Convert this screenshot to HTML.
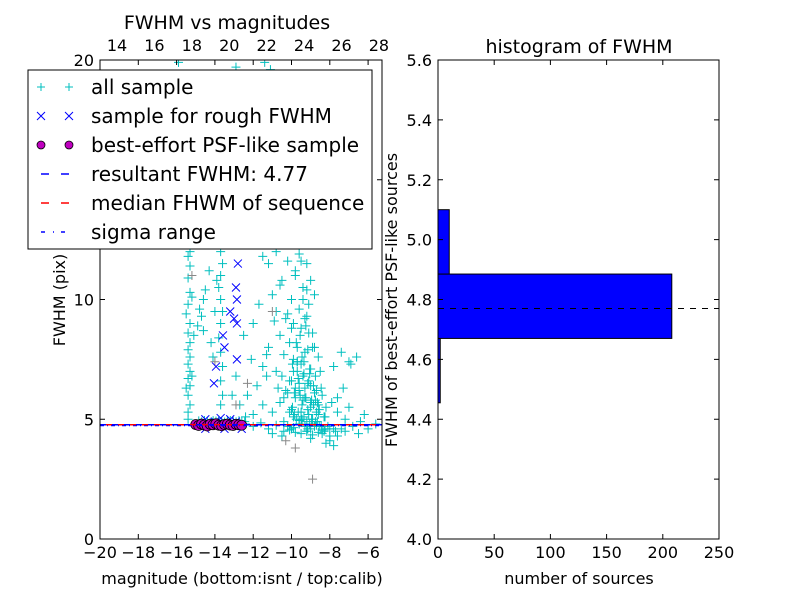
<!DOCTYPE html>
<html><head><meta charset="utf-8"><style>
body{margin:0;background:#fff;font-family:"DejaVu Sans","Liberation Sans",sans-serif}
svg text{font-family:"DejaVu Sans","Liberation Sans",sans-serif;fill:#000}
</style></head><body>
<svg id="fig" width="800" height="600" viewBox="0 0 800 600"></svg>
<script>
const allMag=[-15.4,-15.4,-15.3,-15.4,-15.3,-15.4,-15.3,-15.4,-15.3,-15.4,-15.3,-15.4,-15.3,-15.4,-15.3,-15.4,-15.3,-15.4,-15.3,
-14.9,-14.7,-14.8,-14.6,-14.5,-14.6,
-13.7,-13.6,-13.7,-13.6,-13.7,-13.8,-13.7,-13.6,-13.7,-13.8,-13.7,-13.6,-13.7,-13.8,
-15.9,-11.4,-11.1,-13.9,-12.9,
-11.5,-11.2,-10.8,-10.2,-9.6,-9.2,-9.8,-10.5,-9.4,-8.8,-11.0,-10.0,-9.1,
-10.8,-10.3,-9.9,-9.5,-9.2,-8.9,-10.6,-10.1,-9.7,-9.3,-8.8,-8.6,-10.4,-9.9,-9.5,-9.0,-8.5,-11.2,-11.5,-10.8,-7.4,-7.0,-7.8,
-10.5,-10.0,-9.6,-9.3,-9.0,-8.7,-8.4,-10.2,-9.8,-9.4,-9.0,-8.6,-8.2,-7.9,-10.6,-10.0,-9.5,-9.1,-8.7,-8.3,-7.6,-7.2,-11.0,-11.5,-12.0,-12.3,-11.8,-11.3,-12.1,-12.5,-12.0,-11.7,
-9.7,-9.4,-9.1,-8.8,-9.6,-9.3,-9.0,-8.9,-9.5,-9.2,-8.6,-9.8,-9.35,-9.05,-8.75,-9.45,
-12.4,-12.0,-11.6,-11.2,-10.8,-10.4,-10.0,-9.6,-9.2,-8.8,-8.4,-8.0,-7.6,-7.2,-6.8,-6.4,-6.0,-5.6,-9.0,-8.2,-7.8,-10.5,-6.5,-11.0,
-6.9,-6.6,-7.6,-7.0,-6.2,-7.3,-8.0,
-9.55,-9.25,-8.95,-8.65,-9.85,-9.15,-8.85,-9.65,-9.35,-9.05,-8.45,-8.75,-9.95,-9.45,-9.15,-8.55,-8.25,-9.75,-9.55,-9.25,
-8.95,-8.65,-9.85,-9.15,-8.85,-9.65,-9.35,-9.05,-8.45,-8.75,-9.95,-9.45,-9.15,-8.55,-8.25,-9.75,-10.3,-10.1,-9.9,-9.7,
-10.2,-9.9,-9.6,-9.3,-9.0,-8.7,-8.4,-8.1,-7.8,-10.4,-10.1,-9.8,-9.5,-9.2,-8.9,-8.6,-8.3,-8.0,-7.7,-7.4,
-9.6,-9.4,-9.2,-9.0,-9.8,-9.5,-9.3,-9.1,-8.9,-9.7,-10.0,-10.2,-10.6,-10.9,-11.3,-10.7,-10.4,-10.1,-9.9,-9.6,
-14.2,-14.0,-13.9,-14.2,-14.1,-14.3,-15.5,-15.2,-15.5,-15.2,-15.1,-13.1,-12.7,-12.4,-12.9];
const allFwhm=[5.0,5.3,5.6,6.0,6.4,6.7,7.0,7.3,7.6,7.9,8.2,8.6,9.0,9.8,10.3,10.9,11.4,11.8,12.0,
8.9,9.3,9.6,10.0,10.4,8.7,
5.6,6.0,6.6,7.2,7.8,8.4,9.0,9.5,10.0,10.5,11.0,11.5,12.0,12.5,
19.9,19.9,19.6,19.4,19.7,
11.8,11.5,12.0,11.6,11.9,11.5,11.0,10.8,10.5,10.2,10.2,10.0,9.8,
9.5,9.2,9.0,8.8,9.3,8.6,8.5,8.2,8.0,7.8,8.0,7.6,7.7,7.5,7.3,7.1,7.0,8.0,7.2,7.0,7.8,7.4,7.2,
6.8,6.6,6.5,6.3,6.4,6.2,6.0,6.1,5.9,5.8,5.7,5.6,5.5,5.7,5.7,5.4,5.3,5.2,5.3,5.1,5.3,5.0,5.3,5.6,5.2,6.0,6.4,6.8,7.5,8.5,9.0,9.8,
7.0,6.8,6.6,6.1,6.2,5.9,5.5,5.0,5.0,4.9,5.2,6.3,7.4,6.9,5.8,5.6,
4.8,4.7,4.85,4.6,4.75,4.9,4.6,4.8,4.5,4.7,4.4,4.6,4.3,4.5,4.7,4.9,4.6,4.8,4.2,4.0,3.9,4.3,4.4,4.4,
7.3,7.6,5.9,5.5,5.2,6.3,4.1,
6.0,5.9,5.8,5.7,6.1,6.5,6.4,6.7,6.9,7.1,6.3,6.8,7.3,7.6,7.9,5.4,5.1,8.2,8.5,8.9,
5.0,4.9,5.2,5.4,5.6,5.3,5.1,4.8,4.7,4.9,5.5,5.0,4.6,4.7,4.6,5.0,6.2,6.6,7.0,7.4,
4.7,4.65,4.8,4.7,4.6,4.75,4.55,4.7,4.6,4.5,4.55,4.45,4.4,4.5,4.35,4.45,4.5,4.3,4.5,4.6,
9.6,10.0,10.4,10.8,11.2,11.6,9.2,8.6,8.0,7.4,8.8,9.4,10.6,9.1,7.7,6.3,5.9,5.3,5.1,4.95,
8.2,9.5,10.8,12.4,7.6,11.2,6.3,6.8,9.4,10.1,8.5,6.0,5.6,5.1,6.8];
const greyMag=[-8.9,-10.3,-12.9,-12.3,-14.0,-9.8,-15.2,-11.0];
const greyFwhm=[2.5,4.1,5.6,6.5,7.4,3.8,11.0,9.5];
const roughMag=[-12.8,-12.9,-12.85,-13.2,-13.0,-12.85,-13.58,-13.5,-12.85,-13.94,-14.05,-14.5,-14.5,-13.7,-13.2,-12.9,-12.6,-14.0,-13.5];
const roughFwhm=[11.5,10.5,10.0,9.5,9.2,9.0,8.5,8.0,7.5,7.2,6.5,4.6,5.0,5.05,5.0,4.9,4.6,4.9,4.6];
const psfMag=[-15.0,-14.85,-14.7,-14.55,-14.4,-14.25,-14.1,-13.95,-13.8,-13.65,-13.5,-13.35,-13.2,-13.05,-12.9,-12.75,-12.6];
const psfFwhm=[4.78,4.74,4.8,4.76,4.72,4.79,4.77,4.81,4.75,4.73,4.78,4.8,4.76,4.74,4.79,4.77,4.75];
const resultFwhm=4.77, medianFwhm=4.77, sigmaFwhm=4.77;
const binEdges=[4.455,4.67,4.885,5.1];
const binCounts=[2,208,10];
const xTicksBottom=[-20,-18,-16,-14,-12,-10,-8,-6];
const xTicksTop=[14,16,18,20,22,24,26,28];
const yTicksLeft=[0,5,10,15,20];
const hxTicks=[0,50,100,150,200,250];
const hyTicks=[4.0,4.2,4.4,4.6,4.8,5.0,5.2,5.4,5.6];

const NS="http://www.w3.org/2000/svg";
const svg=document.getElementById('fig');
function mk(tag,attrs,parent){const e=document.createElementNS(NS,tag);for(const k in attrs)e.setAttribute(k,attrs[k]);(parent||svg).appendChild(e);return e;}
function txt(s,x,y,size,anchor,parent,rot){const t=mk('text',{x:x,y:y,'font-size':size,'text-anchor':anchor||'middle'},parent);if(rot)t.setAttribute('transform','rotate(-90 '+x+' '+y+')');t.textContent=s;return t;}

const L={x0:100,x1:382,y0:60,y1:539};
const xs=m=>100+(m+20)*19.15;
const xsTop=c=>117+(c-14)*18.71;
const ys=f=>539-f*23.95;
const clip=mk('clipPath',{id:'cl'});mk('rect',{x:L.x0,y:L.y0,width:L.x1-L.x0,height:L.y1-L.y0},clip);
const gL=mk('g',{'clip-path':'url(#cl)'});

function plus(x,y,col,g){return mk('path',{d:`M${x-4.5} ${y}h9M${x} ${y-4.5}v9`,stroke:col,'stroke-width':1,fill:'none'},g);}
allMag.forEach((m,i)=>{const p=plus(xs(m),ys(allFwhm[i]),'#00bfbf',gL);

});
greyMag.forEach((m,i)=>{const p=plus(xs(m),ys(greyFwhm[i]),'#888',gL);

});
psfMag.forEach((m,i)=>{const p=plus(xs(m)+3,ys(psfFwhm[i]+0.15),'#00bfbf',gL);

});
roughMag.forEach((m,i)=>{const x=xs(m),y=ys(roughFwhm[i]);const p=mk('path',{d:`M${x-4} ${y-4}l8 8M${x+4} ${y-4}l-8 8`,stroke:'#0000ff','stroke-width':1,fill:'none'},gL);

});
psfMag.forEach((m,i)=>{const c=mk('circle',{cx:xs(m),cy:ys(psfFwhm[i]),r:5,fill:'#bf00bf',stroke:'#000','stroke-width':0.8},gL);

});
let ln=mk('line',{x1:L.x0,x2:L.x1,y1:ys(resultFwhm),y2:ys(resultFwhm),stroke:'#0000ff','stroke-dasharray':'6 6','stroke-width':1.5},gL);

ln=mk('line',{x1:L.x0,x2:L.x1,y1:ys(medianFwhm),y2:ys(medianFwhm),stroke:'#ff0000','stroke-dasharray':'6 6','stroke-dashoffset':6,'stroke-width':1.5},gL);

ln=mk('line',{x1:L.x0,x2:L.x1,y1:ys(sigmaFwhm)+1,y2:ys(sigmaFwhm)+1,stroke:'#0000ff','stroke-dasharray':'4 3 1 3'},gL);


let fr=mk('rect',{x:L.x0,y:L.y0,width:L.x1-L.x0,height:L.y1-L.y0,fill:'none',stroke:'#000'});

xTicksBottom.forEach(v=>{const x=xs(v);mk('path',{d:`M${x} ${L.y1}v-5M${x} ${L.y0}v5`,stroke:'#000'});const t=txt('\u2212'+Math.abs(v),x,558,16);});
xTicksTop.forEach(v=>{const x=xsTop(v);const t=txt(String(v),x,51,16);});
yTicksLeft.forEach(v=>{const y=ys(v);mk('path',{d:`M${L.x0} ${y}h5M${L.x1} ${y}h-5`,stroke:'#000'});const t=txt(String(v),94,y+6,16,'end');});
let t=txt('FWHM vs magnitudes',227,29,19);
t=txt('magnitude (bottom:isnt / top:calib)',242,584,16);
t=txt('FWHM (pix)',65,300,16,'middle',null,true);

const lg=mk('g',{});
mk('rect',{x:28,y:70,width:344,height:179,fill:'#fff',stroke:'#000'},lg);
const leg=[['all sample','plus'],['sample for rough FWHM','x'],['best-effort PSF-like sample','o'],['resultant FWHM: 4.77','blue'],['median FHWM of sequence','red'],['sigma range','dd']];
leg.forEach((e,i)=>{const y=87+i*29;
 [41,69].forEach(x=>{
  if(e[1]=='plus')mk('path',{d:`M${x-4} ${y}h8M${x} ${y-4}v8`,stroke:'#00bfbf'},lg);
  if(e[1]=='x')mk('path',{d:`M${x-4} ${y-4}l8 8M${x+4} ${y-4}l-8 8`,stroke:'#0000ff'},lg);
  if(e[1]=='o')mk('circle',{cx:x,cy:y,r:4,fill:'#bf00bf',stroke:'#000','stroke-width':0.8},lg);
 });
 if(e[1]=='blue')mk('path',{d:`M41 ${y}h8M61 ${y}h8`,stroke:'#0000ff','stroke-width':1.5},lg);
 if(e[1]=='red')mk('path',{d:`M41 ${y}h8M61 ${y}h8`,stroke:'#ff0000','stroke-width':1.5},lg);
 if(e[1]=='dd')mk('path',{d:`M41 ${y}h4M53 ${y}h1M61 ${y}h4`,stroke:'#0000ff','stroke-width':1.5},lg);
 const tt=txt(e[0],91,y+7,20,'start',lg);
});

const R={x0:438,x1:719,y0:60,y1:539};
const hx=c=>438+c*(281/250);
const hy=f=>539-(f-4.0)*(479/1.6);
binCounts.forEach((c,i)=>{const b=mk('rect',{x:R.x0,y:hy(binEdges[i+1]),width:hx(c)-R.x0,height:hy(binEdges[i])-hy(binEdges[i+1]),fill:'#0000ff',stroke:'#000'});

});
ln=mk('line',{x1:R.x0,x2:R.x1,y1:hy(resultFwhm),y2:hy(resultFwhm),stroke:'#000','stroke-dasharray':'6 6'});

fr=mk('rect',{x:R.x0,y:R.y0,width:R.x1-R.x0,height:R.y1-R.y0,fill:'none',stroke:'#000'});

hxTicks.forEach(v=>{const x=hx(v);mk('path',{d:`M${x} ${R.y1}v-5M${x} ${R.y0}v5`,stroke:'#000'});const t=txt(String(v),x,558,16);});
hyTicks.forEach(v=>{const y=hy(v);mk('path',{d:`M${R.x0} ${y}h5M${R.x1} ${y}h-5`,stroke:'#000'});const t=txt(v.toFixed(1),432,y+6,16,'end');});
t=txt('histogram of FWHM',579,53,19);
t=txt('number of sources',579,584,16);
t=txt('FWHM of best-effort PSF-like sources',397,300,16,'middle',null,true);
</script>
</body></html>
